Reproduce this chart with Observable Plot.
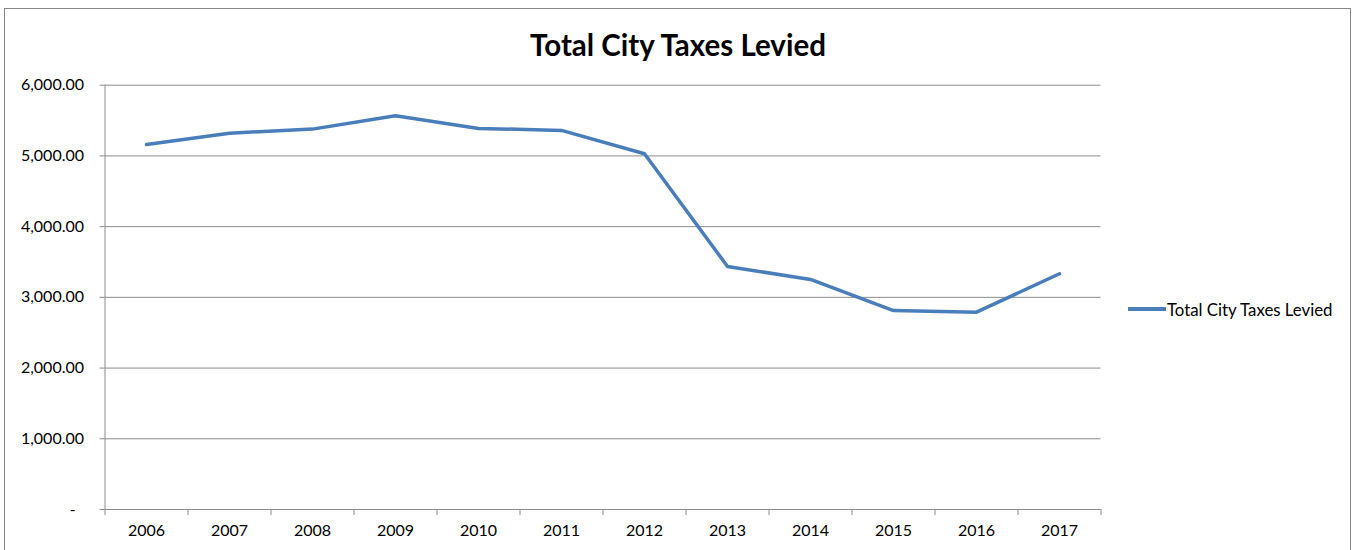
<!DOCTYPE html>
<html>
<head>
<meta charset="utf-8">
<script src="https://cdn.jsdelivr.net/npm/d3@7"></script>
<script src="https://cdn.jsdelivr.net/npm/@observablehq/plot@0.6"></script>
<style>
  html, body { margin: 0; padding: 0; background: #fff; overflow: hidden; }
  body { width: 1355px; height: 550px; position: relative; font-family: Lato, "Open Sans", sans-serif; }
  #frame { position: absolute; left: 4px; top: 8px; width: 1347px; height: 600px; border: 1px solid #878787; box-sizing: border-box; }
  #chart { position: absolute; left: 0; top: 0; }
  #title { position: absolute; left: 4px; width: 1348px; top: 27px; text-align: center; font-weight: bold; font-size: 29.5px; color: #000; line-height: 36px; }
  #legend { position: absolute; left: 1128px; top: 298px; height: 22px; display: flex; align-items: center; font-size: 16.8px; color: #000; }
  #legend .sw { width: 38px; height: 3.5px; background: #4a7ebb; margin-right: 1px; }
</style>
</head>
<body>
<div id="frame"></div>
<div id="chart"></div>
<div id="title">Total City Taxes Levied</div>
<div id="legend"><span class="sw"></span><span>Total City Taxes Levied</span></div>
<script>
const years = [2006, 2007, 2008, 2009, 2010, 2011, 2012, 2013, 2014, 2015, 2016, 2017];
const taxes = [5160, 5322, 5379, 5569, 5389, 5361, 5031, 3437, 3253, 2813, 2790, 3334];
const yTicks = [0, 1000, 2000, 3000, 4000, 5000, 6000];
const seriesName = "Total City Taxes Levied";

const data = years.map((y, i) => ({year: y, value: taxes[i]}));
const bounds = years.map(y => y - 0.5).concat([years[years.length - 1] + 0.5]);
const fmt = d3.format(",.2f");

const plot = Plot.plot({
  width: 1355,
  height: 550,
  marginLeft: 104.5,
  marginRight: 254.5,
  marginTop: 84.7,
  marginBottom: 41,
  style: {fontFamily: "Lato, 'Open Sans', sans-serif", fontSize: "16px", color: "#000", background: "transparent"},
  x: {type: "linear", domain: [bounds[0], bounds[bounds.length - 1]]},
  y: {domain: [0, 6000]},
  marks: [
    Plot.gridY(yTicks, {stroke: "#8c8c8c", strokeOpacity: 1, strokeWidth: 1}),
    Plot.axisY({ticks: yTicks, tickSize: 5, tickPadding: 16, stroke: "#8c8c8c", strokeOpacity: 1,
      tickFormat: d => d === 0 ? "-\u00a0\u00a0" : fmt(d), label: null, fill: "#000"}),
    Plot.ruleX([bounds[0]], {stroke: "#8c8c8c", strokeWidth: 1}),
    Plot.ruleY([0], {stroke: "#8c8c8c", strokeWidth: 1}),
    Plot.axisX({ticks: bounds, tickSize: 6, tickFormat: () => "", stroke: "#8c8c8c", strokeOpacity: 1, label: null}),
    Plot.axisX({ticks: years, tickSize: 0, tickPadding: 15, tickFormat: d => String(d), label: null, fill: "#000"}),
    Plot.line(data, {x: "year", y: "value", stroke: "#4a7ebb", strokeWidth: 3.5, strokeLinejoin: "round"})
  ]
});
document.getElementById("chart").appendChild(plot);
</script>
</body>
</html>
